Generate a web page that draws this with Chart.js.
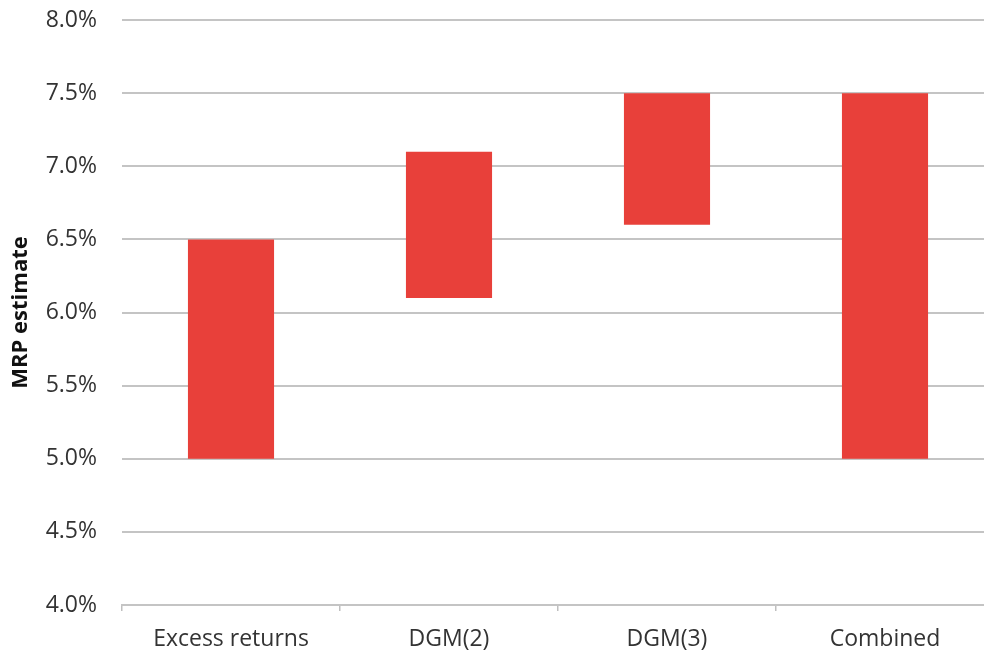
<!DOCTYPE html>
<html>
<head>
<meta charset="utf-8">
<script src="https://cdn.jsdelivr.net/npm/chart.js@4"></script>
<style>
  html, body { margin: 0; padding: 0; overflow: hidden; background: #fff; }
  #wrap { width: 1000px; height: 653px; position: relative; }
</style>
</head>
<body>
<div id="wrap"><canvas id="mrp"></canvas></div>
<script>
// MRP estimate ranges, low / high in %
const categories = ["Excess returns", "DGM(2)", "DGM(3)", "Combined"];
const lowValues = [5.0, 6.1, 6.6, 5.0];
const highValues = [6.5, 7.1, 7.5, 7.5];
const yTicks = [4.0, 4.5, 5.0, 5.5, 6.0, 6.5, 7.0, 7.5, 8.0];

let ranges = [];
lowValues.forEach((low, i) => {
  ranges.push([low, highValues[i]]);
});

const data = {
  labels: categories,
  datasets: [
    {
      label: "MRP estimate",
      backgroundColor: "#e8403a",
      data: ranges,
      categoryPercentage: 1,
      barPercentage: 0.395,
    },
  ],
};

const config = {
  type: "bar",
  data: data,
  options: {
    responsive: true,
    maintainAspectRatio: false,
    animation: false,
    layout: { padding: { top: 20, right: 6, bottom: 0, left: 8 } },
    plugins: {
      legend: { display: false },
      tooltip: { enabled: false },
    },
    scales: {
      x: {
        grid: {
          drawOnChartArea: false,
          drawTicks: true,
          tickLength: 6,
          color: "#bfbfbf",
          lineWidth: 1.5,
        },
        border: { color: "#c4c4c4", width: 2 },
        ticks: {
          color: "#333",
          padding: 15,
          font: { family: "Open Sans", size: 23 },
        },
        afterFit: (scale) => {
          scale.height = 48;
        },
      },
      y: {
        min: 4.0,
        max: 8.0,
        afterBuildTicks: (scale) => {
          scale.ticks = yTicks.map((v) => ({ value: v }));
        },
        grid: {
          drawTicks: false,
          color: "#c4c4c4",
          lineWidth: 2,
        },
        border: { display: false },
        ticks: {
          color: "#333",
          padding: 25,
          font: { family: "Open Sans", size: 23 },
          callback: (v) => v.toFixed(1) + "%",
        },
        title: {
          display: true,
          text: "MRP estimate",
          color: "#111",
          padding: 0,
          font: { family: "Open Sans", size: 22, weight: "bold" },
        },
        afterFit: (scale) => {
          scale.width = 114;
          scale.paddingTop = 0;
          scale.paddingBottom = 0;
        },
      },
    },
  },
};

const ctx = document.getElementById("mrp").getContext("2d");
let chart = new Chart(ctx, config);
</script>
</body>
</html>
